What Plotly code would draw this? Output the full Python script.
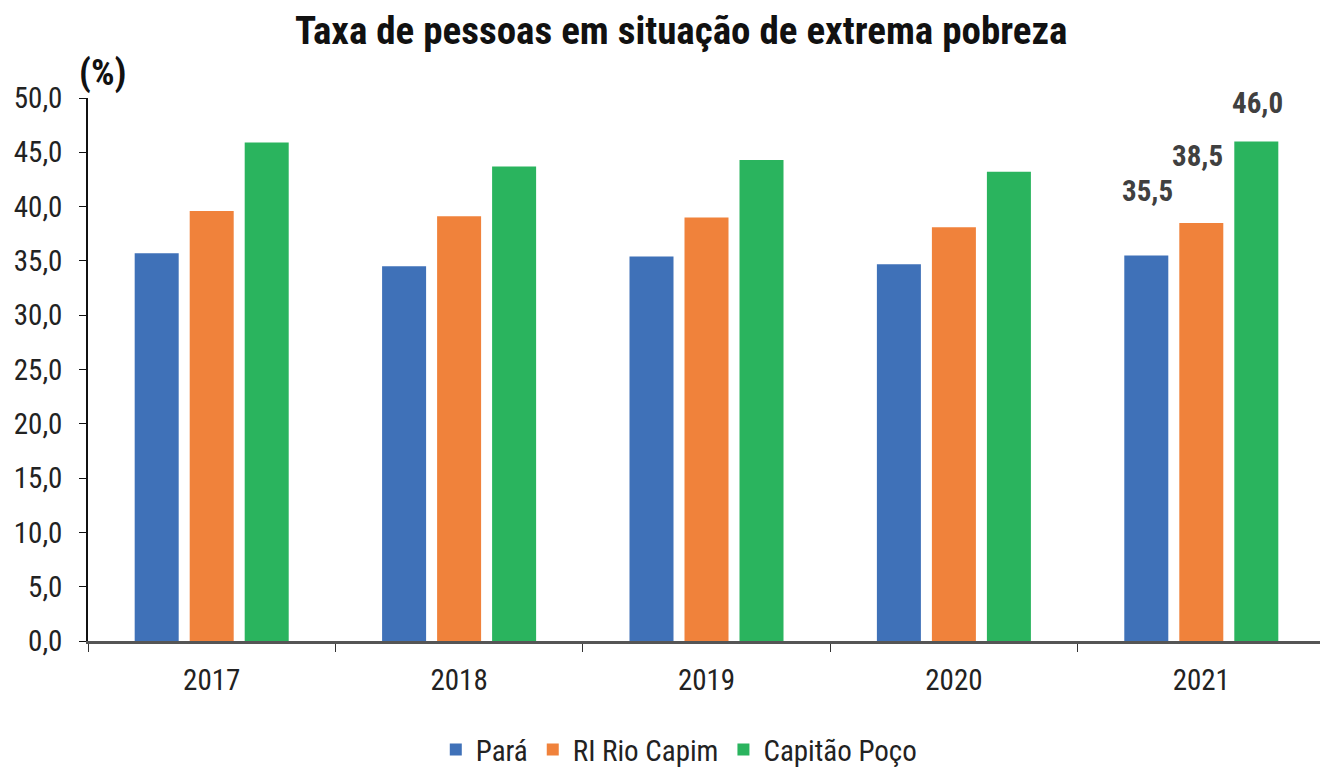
import plotly.graph_objects as go

years = ["2017", "2018", "2019", "2020", "2021"]
para = [35.7, 34.5, 35.4, 34.7, 35.5]
rio_capim = [39.6, 39.1, 39.0, 38.1, 38.5]
capitao_poco = [45.9, 43.7, 44.3, 43.2, 46.0]
series_names = ["Pará", "RI Rio Capim", "Capitão Poço"]
colors = ["#3F71B8", "#F0823B", "#2AB45E"]

FONT = "Liberation Sans Narrow, Arial Narrow, Roboto Condensed, Liberation Sans, Arial, sans-serif"

fig = go.Figure()
for name, vals, c in zip(series_names, [para, rio_capim, capitao_poco], colors):
    fig.add_trace(go.Bar(x=years, y=vals, name=name, marker=dict(color=c, line=dict(width=0))))

# data labels for the last year (numeric category index for the x position)
last = len(years) - 1
label_shift = [(-54, 45), (-4, 48), (56, 19)]
for (xs, ys), vals in zip(label_shift, [para, rio_capim, capitao_poco]):
    v = vals[-1]
    fig.add_annotation(x=last, y=v, xref="x", yref="y", text=f"{v:.1f}".replace(".", ","),
                       showarrow=False, yanchor="bottom", xshift=xs, yshift=ys,
                       font=dict(family=FONT, size=29, color="#404040", weight="bold"))

fig.add_annotation(x=0.0, y=1.0, xref="paper", yref="paper", text="(%)", showarrow=False,
                   xanchor="left", yanchor="bottom", xshift=-11, yshift=2,
                   font=dict(family=FONT, size=37, color="#111111", weight="bold"))

fig.update_layout(
    width=1320, height=759,
    margin=dict(l=80, r=3, t=90, b=126, autoexpand=False),
    paper_bgcolor="white", plot_bgcolor="white",
    separators=",.",
    barmode="group", bargap=0.333, bargroupgap=0.2,
    title=dict(text="Taxa de pessoas em situação de extrema pobreza", x=0.51, xanchor="center",
               y=0.971, yanchor="middle",
               font=dict(family=FONT, size=39, color="#111111", weight="bold")),
    font=dict(family=FONT, size=29, color="#222222"),
    showlegend=True,
    legend=dict(orientation="h", x=0.478, xanchor="center", y=-0.2, yanchor="middle",
                font=dict(family=FONT, size=29, color="#222222"),
                itemwidth=30, traceorder="normal"),
    xaxis=dict(type="category", range=[-0.5, 4.5], showline=True, linecolor="#555555", linewidth=2.5,
               ticks="outside", tickson="boundaries", ticklen=8, tickcolor="#333333",
               automargin=False, ticklabelstandoff=11,
               showgrid=False, tickfont=dict(family=FONT, size=29, color="#222222")),
    yaxis=dict(range=[0, 50], dtick=5, tickformat=".1f", showline=True, linecolor="#111111",
               linewidth=1.5, ticks="outside", ticklen=7, tickcolor="#111111", showgrid=False,
               automargin=False, ticklabelstandoff=11,
               zeroline=False, tickfont=dict(family=FONT, size=29, color="#222222")),
)

fig.write_html("out.html")
